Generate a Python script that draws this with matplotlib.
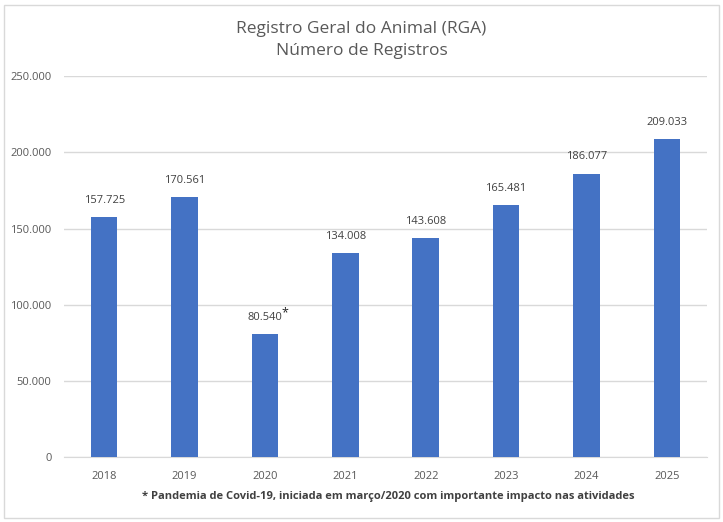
import matplotlib
matplotlib.use("Agg")
import matplotlib.pyplot as plt
from matplotlib.patches import Rectangle
from matplotlib.ticker import FuncFormatter

plt.rcParams["font.family"] = ["Open Sans", "DejaVu Sans"]

years = ["2018", "2019", "2020", "2021", "2022", "2023", "2024", "2025"]
registros = [157725, 170561, 80540, 134008, 143608, 165481, 186077, 209033]
nota_ano = "2020"
nota = "* Pandemia de Covid-19, iniciada em março/2020 com importante impacto nas atividades"

TEXT = "#595959"
DARK = "#404040"
BLUE = "#4472C4"
GRID = "#D9D9D9"


def br(v, _=None):
    return f"{int(v):,}".replace(",", ".")


fig = plt.figure(figsize=(7.23, 5.22), dpi=100)
ax = fig.add_axes([0.0885, 0.1245, 0.8895, 0.7295])

x = range(len(years))
bars = ax.bar(x, registros, width=0.33, color=BLUE, zorder=3)
ax.set_xlim(-0.5, len(years) - 0.5)
ax.set_ylim(0, 250000)
ax.set_yticks(range(0, 250001, 50000))
ax.yaxis.set_major_formatter(FuncFormatter(br))
ax.set_xticks(list(x))
ax.set_xticklabels(years)
ax.grid(axis="y", color=GRID, lw=1, zorder=0)
for s in ["top", "right", "left"]:
    ax.spines[s].set_visible(False)
ax.spines["bottom"].set_color(GRID)
ax.tick_params(axis="both", length=0, colors=TEXT, labelsize=8)
ax.tick_params(axis="x", pad=10)
ax.tick_params(axis="y", pad=9)

for i, (b, v) in enumerate(zip(bars, registros)):
    cx = b.get_x() + b.get_width() / 2
    ax.annotate(br(v), (cx, v), xytext=(0, 8), textcoords="offset points",
                ha="center", va="bottom", fontsize=8, color=DARK)
    if years[i] == nota_ano:
        ax.annotate("*", (cx, v), xytext=(14, 11), textcoords="offset points",
                    ha="center", va="bottom", fontsize=9, color="#262626")

fig.text(0.5, 0.945, "Registro Geral do Animal (RGA)", ha="center", va="center",
         fontsize=12.5, color=TEXT)
fig.text(0.5, 0.903, "Número de Registros", ha="center", va="center",
         fontsize=12.5, color=TEXT)
fig.text(0.537, 0.048, nota, ha="center", va="center", fontsize=8,
         fontweight="bold", color=DARK)

fig.patches.append(Rectangle((0.006, 0.008), 0.988, 0.982, transform=fig.transFigure,
                             fill=False, edgecolor=GRID, lw=1))

fig.savefig("out.png", dpi=100)
